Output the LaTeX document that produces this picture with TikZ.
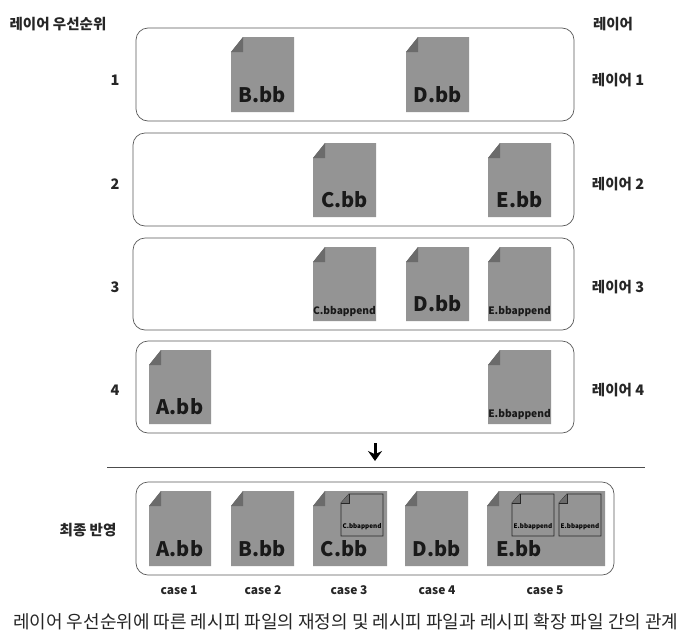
\documentclass[tikz,border=0pt]{standalone}
\usepackage{fontspec}
\usetikzlibrary{arrows.meta}
\setmainfont{Noto Sans CJK KR}
\tikzset{
  x=1pt,y=-1pt,
  layerbox/.style={draw=black!65,line width=0.7pt,rounded corners=12pt,fill=white},
  lab/.style={font=\fontsize{14.5}{17}\selectfont\bfseries,text=black!85,inner sep=0pt},
  numlab/.style={font=\fontsize{14.5}{16}\selectfont\bfseries,text=black!85,inner sep=0pt},
  caselab/.style={font=\fontsize{12}{14}\selectfont\bfseries,text=black!85,inner sep=0pt},
}
\definecolor{filegray}{gray}{0.58}
\definecolor{foldgray}{gray}{0.42}
% #1 x0 #2 y0 #3 x1 #4 y1 #5 label #6 font size #7 label y offset from bottom
\newcommand{\filedoc}[7]{%
  \fill[filegray] (#1+12,#2) -- (#3,#2) -- (#3,#4) -- (#1,#4) -- (#1,#2+15) -- cycle;
  \fill[foldgray] (#1+12,#2) -- (#1+12,#2+15) -- (#1,#2+15) -- cycle;
  \node[inner sep=0pt,text=black!90,font=\fontsize{#6}{#6}\selectfont\bfseries] at ({(#1+#3)/2},#4-#7) {#5};
}
\newcommand{\smalldoc}[4]{%
  \draw[black!85,line width=0.8pt] (#1+8,#2) -- (#1+42,#2) -- (#1+42,#2+42) -- (#1,#2+42) -- (#1,#2+9) -- cycle;
  \fill[foldgray] (#1+8,#2) -- (#1+8,#2+9) -- (#1,#2+9) -- cycle;
  \draw[black!85,line width=0.6pt] (#1+8,#2) -- (#1+8,#2+9) -- (#1,#2+9);
  \node[inner sep=0pt,text=black,font=\fontsize{#4}{#4}\selectfont\bfseries] at (#1+21,#2+33) {#3};
}
\begin{document}
\begin{tikzpicture}
\useasboundingbox (0,0) rectangle (692,640);
\fill[white] (0,0) rectangle (692,640);
\node[lab] (hp) at (58,24) {레이어 우선순위};
\node[lab] (hl) at (613,24) {레이어};
\draw[layerbox] (136,28) rectangle (574,121);
\draw[layerbox] (133,133) rectangle (574,226);
\draw[layerbox] (133,238) rectangle (574,330);
\draw[layerbox] (136,341) rectangle (574,433);
\node[numlab] (p1) at (115,80) {1};
\node[numlab] (p2) at (115,184) {2};
\node[numlab] (p3) at (115,287) {3};
\node[numlab] (p4) at (115,390) {4};
\node[lab] (l1) at (618,80) {레이어 1};
\node[lab] (l2) at (618,184) {레이어 2};
\node[lab] (l3) at (618,287) {레이어 3};
\node[lab] (l4) at (618,390) {레이어 4};
\filedoc{231}{37}{294}{112}{B.bb}{20}{17}
\filedoc{406}{37}{469}{112}{D.bb}{20}{17}
\filedoc{313}{143}{376}{217}{C.bb}{20}{17}
\filedoc{488}{143}{551}{217}{E.bb}{20}{17}
\filedoc{313}{247}{376}{321}{C.bbappend}{10.2}{10}
\filedoc{406}{247}{469}{321}{D.bb}{20}{17}
\filedoc{488}{247}{551}{321}{E.bbappend}{10.2}{10}
\filedoc{149}{350}{211}{424}{A.bb}{20}{17}
\filedoc{488}{350}{551}{424}{E.bbappend}{10.2}{10}
\coordinate (atop) at (375,443);
\coordinate (abot) at (375,461);
\draw[line width=3pt,-{Stealth[length=10pt,width=14pt]}] (atop) -- (abot);
\coordinate (rl) at (107,467);
\coordinate (rr) at (645,467);
\draw[black!70,line width=0.8pt] (rl) -- (rr);
\draw[layerbox] (136,482) rectangle (614,575);
\node[lab] (fin) at (88,530) {최종 반영};
\filedoc{149}{491}{211}{566}{A.bb}{20}{17}
\filedoc{231}{491}{294}{566}{B.bb}{20}{17}
\filedoc{313}{491}{387}{566}{}{20}{17}
\node[inner sep=0pt,text=black!90,font=\fontsize{20}{20}\selectfont\bfseries] (cbb) at (344,549) {C.bb};
\filedoc{405}{491}{468}{566}{D.bb}{20}{17}
\filedoc{487}{491}{605}{566}{}{20}{17}
\node[inner sep=0pt,text=black!90,font=\fontsize{20}{20}\selectfont\bfseries] (ebb) at (519,549) {E.bb};
\smalldoc{341}{494}{C.bbappend}{6.3}
\smalldoc{512}{494}{E.bbappend}{6.3}
\smalldoc{559}{494}{E.bbappend}{6.3}
\node[caselab] (c1) at (179,590) {case 1};
\node[caselab] (c2) at (263,590) {case 2};
\node[caselab] (c3) at (349,590) {case 3};
\node[caselab] (c4) at (437,590) {case 4};
\node[caselab] (c5) at (545,590) {case 5};
\node[inner sep=0pt,anchor=west,text=black!85,font=\fontsize{18}{20}\selectfont] (cap) at (13,622) {레이어 우선순위에 따른 레시피 파일의 재정의 및 레시피 파일과 레시피 확장 파일 간의 관계};
\end{tikzpicture}
\end{document}
